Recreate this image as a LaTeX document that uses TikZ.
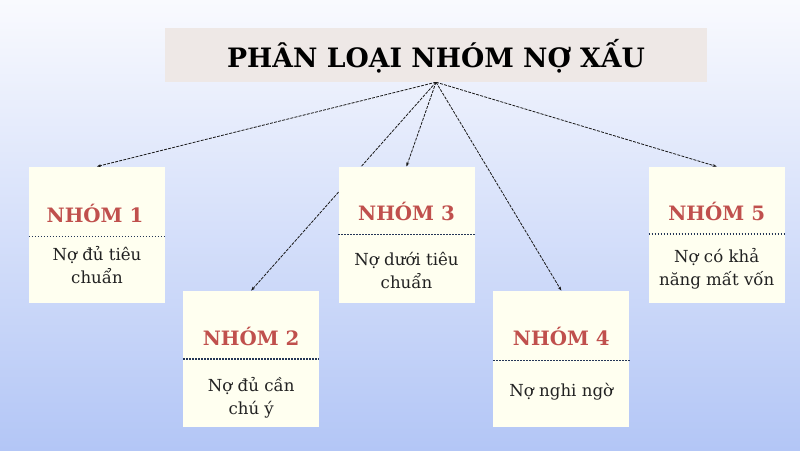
\documentclass[tikz,border=0pt]{standalone}
\usepackage{fontspec}
\setmainfont{DejaVu Serif}
\usetikzlibrary{arrows.meta}
\pgfdeclarelayer{back}
\pgfdeclarelayer{lines}
\pgfsetlayers{back,lines,main}
\definecolor{titlefill}{HTML}{EEE8E6}
\definecolor{boxfill}{HTML}{FFFFF0}
\definecolor{headred}{HTML}{C0504D}
\definecolor{dotnavy}{HTML}{243656}
\definecolor{bgtop}{HTML}{F9FAFE}
\definecolor{bgbot}{HTML}{B3C6F6}
\definecolor{bodytext}{HTML}{222222}
\begin{document}
\begin{tikzpicture}[x=1pt,y=-1pt,
  titlebox/.style={fill=titlefill, minimum width=542pt, minimum height=54pt, inner sep=0pt},
  titletext/.style={inner sep=0pt, anchor=base, font=\fontsize{26.7}{32}\selectfont\bfseries, text=black},
  groupbox/.style={fill=boxfill, minimum width=136pt, minimum height=136pt, inner sep=0pt},
  head/.style={text=headred, anchor=base, font=\fontsize{19.8}{24}\selectfont\bfseries, inner sep=0pt},
  body/.style={font=\fontsize{16.6}{23}\selectfont, align=center, anchor=base, inner sep=0pt, text=bodytext},
  sep/.style={draw=dotnavy, line width=1.8pt, dash pattern=on 1.6pt off 1.4pt},
  conn/.style={draw=black!90, line width=0.8pt, dash pattern=on 3pt off 1.2pt, -{Stealth[length=4pt,width=3pt]}}
]
\useasboundingbox (0,0) rectangle (800,450);
\begin{pgfonlayer}{back}
  \shade[top color=bgtop, bottom color=bgbot] (0,0) rectangle (800,450);
\end{pgfonlayer}

\node[titlebox] (title) at (436,55) {};
\node[titletext] (ttext) at (436,67.5) {PHÂN LOẠI NHÓM NỢ XẤU};

\node[groupbox] (b1) at (97,234.7) {};
\node[groupbox] (b2) at (251.2,358.8) {};
\node[groupbox] (b3) at (406.5,234.7) {};
\node[groupbox] (b4) at (561.3,358.8) {};
\node[groupbox] (b5) at (716.7,234.7) {};

\node[head] (h1) at (95,222.5) {NHÓM 1};
\node[head] (h2) at (251.2,345) {NHÓM 2};
\node[head] (h3) at (406.5,220.5) {NHÓM 3};
\node[head] (h4) at (561.3,345) {NHÓM 4};
\node[head] (h5) at (716.7,220.5) {NHÓM 5};

\coordinate (s1) at (0,236.5);
\coordinate (s2) at (0,359);
\coordinate (s3) at (0,234.5);
\coordinate (s4) at (0,360.5);
\coordinate (s5) at (0,234);
\draw[sep] (b1.west |- s1) -- (b1.east |- s1);
\draw[sep] (b2.west |- s2) -- (b2.east |- s2);
\draw[sep] (b3.west |- s3) -- (b3.east |- s3);
\draw[sep] (b4.west |- s4) -- (b4.east |- s4);
\draw[sep] (b5.west |- s5) -- (b5.east |- s5);

\node[body] (t1) at (97,283) {Nợ đủ tiêu\\chuẩn};
\node[body] (t2) at (251.2,414) {Nợ đủ cần\\chú ý};
\node[body] (t3) at (406.5,288) {Nợ dưới tiêu\\chuẩn};
\node[body] (t4) at (561.3,396) {Nợ nghi ngờ};
\node[body] (t5) at (716.7,285) {Nợ có khả\\năng mất vốn};

\begin{pgfonlayer}{lines}
  \draw[conn] (title.south) -- (b1.north);
  \draw[conn] (title.south) -- (b2.north);
  \draw[conn] (title.south) -- (b3.north);
  \draw[conn] (title.south) -- (b4.north);
  \draw[conn] (title.south) -- (b5.north);
\end{pgfonlayer}
\end{tikzpicture}
\end{document}
